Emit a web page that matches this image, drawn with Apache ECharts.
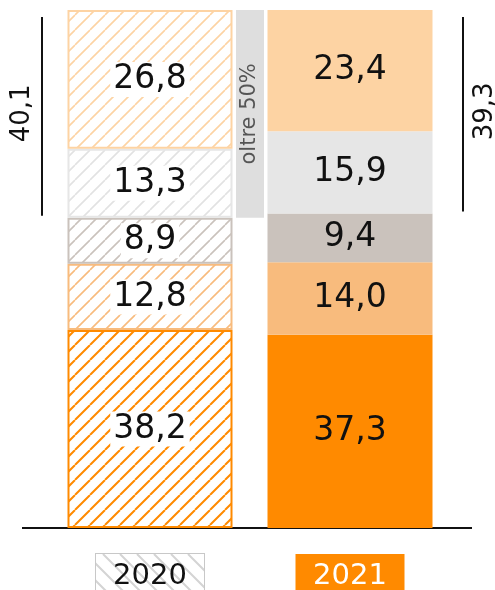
<!DOCTYPE html>
<html>
<head>
<meta charset="utf-8">
<script src="https://cdn.jsdelivr.net/npm/echarts@6/dist/echarts.min.js"></script>
<style>
  html, body { margin: 0; padding: 0; background: #fff; overflow: hidden; }
  #chart { width: 495px; height: 590px; }
</style>
</head>
<body>
<div id="chart"></div>
<script>
// Years shown on the category axis
const categories = ['2020', '2021'];
// Stacked shares per year, from the bottom layer to the top layer (%)
const values2020 = [38.2, 12.8, 8.9, 13.3, 26.8];
const values2021 = [37.3, 14.0, 9.4, 15.9, 23.4];
const layerNames = ['Fascia 1', 'Fascia 2', 'Fascia 3', 'Fascia 4', 'Fascia 5'];
const layerColors = ['#FF8A00', '#F8BB7D', '#CAC2BC', '#E6E6E6', '#FDD3A3'];
const hatchColors = ['#FF8A00', '#F8BB7D', '#CAC2BC', '#E2E2E2', '#FDD3A3'];
const bandLabel = 'oltre 50%';
const FONT = 'DejaVu Sans';

const fmt = v => v.toFixed(1).replace('.', ',');

// Diagonal hatch tile used as a repeating fill
function hatchTile(color, width, dir, size) {
  const s = size || 15;
  const c = document.createElement('canvas');
  c.width = s; c.height = s;
  const ctx = c.getContext('2d');
  ctx.fillStyle = '#fff';
  ctx.fillRect(0, 0, s, s);
  ctx.strokeStyle = color;
  ctx.lineWidth = width;
  ctx.beginPath();
  for (let k = -1; k <= 1; k++) {
    if (dir === '/') { ctx.moveTo(k * s, s); ctx.lineTo(k * s + s, 0); }
    else { ctx.moveTo(k * s, 0); ctx.lineTo(k * s + s, s); }
  }
  ctx.stroke();
  return c;
}

// Hatched background for the 2020 axis tag
function hatchBox(w, h, color) {
  const c = document.createElement('canvas');
  c.width = w; c.height = h;
  const ctx = c.getContext('2d');
  ctx.fillStyle = '#fff';
  ctx.fillRect(0, 0, w, h);
  ctx.strokeStyle = color;
  ctx.lineWidth = 2;
  ctx.beginPath();
  for (let x = -h; x < w + h; x += 17) { ctx.moveTo(x, 0); ctx.lineTo(x + h, h); }
  ctx.stroke();
  return c;
}

// Top two layers of each bar form the bracketed group
const top2020 = values2020[3] + values2020[4];
const top2021 = values2021[3] + values2021[4];

const layerSeries = layerNames.map((name, i) => ({
  name: name,
  type: 'bar',
  stack: 'years',
  xAxisIndex: 0,
  barWidth: 165,
  data: [
    {
      value: values2020[i],
      itemStyle: {
        color: { image: hatchTile(hatchColors[i], i === 0 ? 2 : 1.6, '/'), repeat: 'repeat' },
        borderColor: layerColors[i],
        borderWidth: 2
      },
      label: { backgroundColor: '#fff', padding: [1, 3, 1, 3] }
    },
    {
      value: values2021[i],
      itemStyle: { color: layerColors[i], borderWidth: 0 }
    }
  ],
  label: {
    show: true,
    position: 'inside',
    formatter: p => fmt(p.value),
    fontFamily: FONT,
    fontSize: 33,
    color: '#111'
  },
  emphasis: { disabled: true }
}));

// Grey band marking the share above 50%
const bandSeries = [
  {
    type: 'bar', stack: 'band', xAxisIndex: 1, barWidth: 28,
    data: [100 - top2020],
    itemStyle: { color: 'transparent' },
    emphasis: { disabled: true }
  },
  {
    type: 'bar', stack: 'band', xAxisIndex: 1, barWidth: 28,
    data: [top2020],
    itemStyle: { color: '#DEDEDE' },
    label: {
      show: true, position: 'inside', rotate: 90,
      formatter: bandLabel,
      fontFamily: FONT, fontSize: 21, color: '#555'
    },
    emphasis: { disabled: true }
  }
];

// Vertical brackets with the totals of the top two layers
const bracketSeries = {
  type: 'custom',
  xAxisIndex: 0,
  silent: true,
  data: [[0, 100 - top2020, 100, top2020], [1, 100 - top2021, 100, top2021]],
  renderItem: function (params, api) {
    const cat = api.value(0);
    const pTop = api.coord([cat, api.value(2)]);
    const pBot = api.coord([cat, api.value(1)]);
    const left = cat === 0;
    const x = pTop[0] + (left ? -108 : 113);
    const tx = x + (left ? -20 : 22);
    const y0 = pTop[1] + 7, y1 = pBot[1] - 2;
    return {
      type: 'group',
      children: [
        { type: 'line', shape: { x1: x, y1: y0, x2: x, y2: y1 }, style: { stroke: '#111', lineWidth: 2 } },
        {
          type: 'text', x: tx, y: (y0 + y1) / 2 - 3, rotation: Math.PI / 2,
          style: { text: fmt(api.value(3)), fontFamily: FONT, fontSize: 26, fill: '#111', align: 'center', verticalAlign: 'middle' }
        }
      ]
    };
  }
};

const chart = echarts.init(document.getElementById('chart'), null, { renderer: 'canvas', width: 495, height: 590 });
chart.setOption({
  animation: false,
  backgroundColor: '#fff',
  grid: { left: 50, right: 45, top: 10, bottom: 62, containLabel: false, outerBoundsMode: 'none' },
  xAxis: [
    {
      type: 'category',
      data: categories,
      axisLine: { show: false },
      axisTick: { show: false },
      axisLabel: {
        margin: 26,
        formatter: v => v === '2020' ? '{a|' + v + '}' : '{b|' + v + '}',
        rich: {
          a: {
            fontFamily: FONT, fontSize: 29, color: '#111',
            width: 74, height: 30, align: 'center',
            backgroundColor: { image: hatchBox(108, 44, '#D4D4D4') },
            borderColor: '#C8C8C8', borderWidth: 2,
            padding: [7, 17, 7, 17]
          },
          b: {
            fontFamily: FONT, fontSize: 29, color: '#fff',
            width: 75, height: 30, align: 'center',
            backgroundColor: '#FF8A00',
            padding: [7, 17, 7, 17]
          }
        }
      }
    },
    { type: 'category', data: [bandLabel], show: false }
  ],
  yAxis: { type: 'value', min: 0, max: 100, show: false },
  series: layerSeries.concat(bandSeries, [bracketSeries])
});

// Baseline under the bars
const baseY = chart.convertToPixel({ yAxisIndex: 0 }, 0);
chart.setOption({
  graphic: [{
    type: 'line', silent: true,
    shape: { x1: 22, y1: baseY, x2: 472, y2: baseY },
    style: { stroke: '#111', lineWidth: 2 }
  }]
});
</script>
</body>
</html>
